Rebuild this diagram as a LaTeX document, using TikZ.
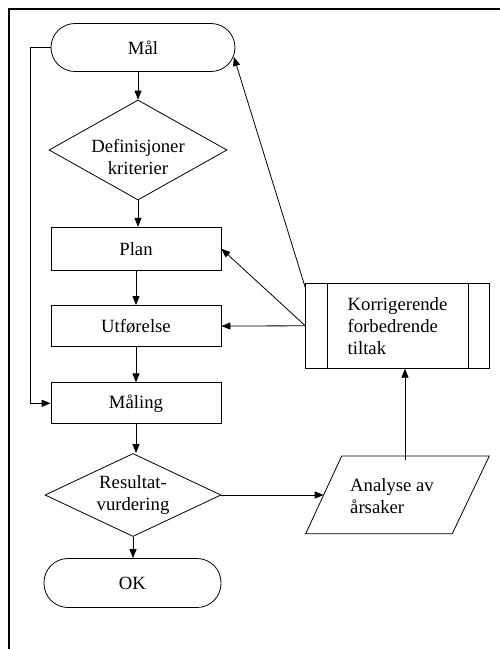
\documentclass[tikz,border=0pt]{standalone}
\usepackage{fontspec}
\setmainfont{Liberation Serif}
\usetikzlibrary{shapes.geometric,arrows.meta,calc}
\begin{document}
\begin{tikzpicture}[x=1pt,y=-1pt,
  every node/.style={font=\fontsize{18.7}{22}\selectfont, inner sep=0pt},
  ln/.style={line width=0.8pt},
  box/.style={draw, ln, minimum width=170pt, minimum height=42pt},
  term/.style={draw, ln, rounded corners=24pt, minimum height=48pt},
  dec/.style={draw, ln, diamond, align=center},
  arr/.style={-{Triangle[length=9pt,width=7pt]}, ln}]
\useasboundingbox (0,0) rectangle (500,649);
% frame
\draw[line width=1.2pt] (9,649) -- (9,9) -- (500,9);
% nodes
\node[term, minimum width=184pt] (mal) at (143,47.5) {Mål};
\node[dec, minimum width=178pt, minimum height=100pt] (d1) at (138,150) {};
\node[align=center] (d1t) at (138,157) {Definisjoner\\kriterier};
\node[box, minimum height=43pt] (plan) at (136,248.7) {Plan};
\node[box, minimum height=41pt] (utf) at (136,326) {Utførelse};
\node[box, minimum height=41pt] (maling) at (136,403.3) {Måling};
\node[dec, aspect=2.12, minimum width=176pt, minimum height=83pt] (d2) at (133,495) {Resultat-\\vurdering};
\node[term, minimum width=177pt, minimum height=49pt] (ok) at (132.5,583) {OK};
\node[draw, ln, minimum width=183.6pt, minimum height=85pt, align=left] (korr) at (397.5,325.8) {Korrigerende\\forbedrende\\tiltak};
\draw[ln] ($(korr.north west)+(22,0)$) -- ($(korr.south west)+(22,0)$);
\draw[ln] ($(korr.north east)+(-21.6,0)$) -- ($(korr.south east)+(-21.6,0)$);
% parallelogram (Analyse av årsaker)
\coordinate (anTL) at (341.7,456);
\coordinate (anTR) at (489.3,456);
\coordinate (anBR) at (452.3,533.7);
\coordinate (anBL) at (305.7,533.7);
\coordinate (anW) at ($(anTL)!0.5!(anBL)$);
\coordinate (anup) at (405,460);
\draw[ln] (anTL) -- (anTR) -- (anBR) -- (anBL) -- cycle;
\node[align=left, anchor=west] (an) at (350,496.5) {Analyse av\\årsaker};
% connectors
\draw[arr] (mal.south -| d1.north) -- (d1.north);
\draw[arr] (d1.south) -- (d1.south |- plan.north);
\draw[arr] (plan.south) -- (utf.north);
\draw[arr] (utf.south) -- (maling.north);
\draw[arr] (maling.south) -- (maling.south |- d2.north);
\draw[arr] (d2.south) -- (d2.south |- ok.north);
\draw[arr] (mal.west) -- ++(-20.7,0) |- (maling.west);
\draw[arr] (d2.east) -- (d2.east -| anW);
\draw[arr] (anup) -- (anup |- korr.south);
\draw[arr] ($(korr.north west)+(0,4.7)$) -- ($(mal.east)+(-1.5,9.5)$);
\draw[arr] (korr.west) -- (plan.east);
\draw[arr] (korr.west) -- (utf.east);
\end{tikzpicture}
\end{document}
